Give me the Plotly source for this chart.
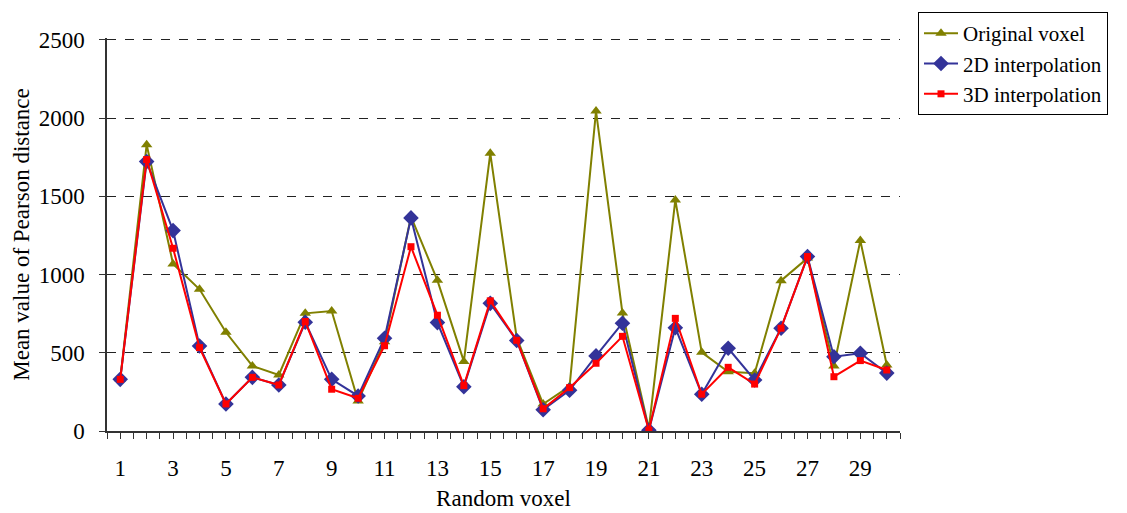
import plotly.graph_objects as go

voxels = list(range(1, 31))
original = [330, 1830, 1068, 906, 631, 416, 358, 752, 767, 192,
            570, 1370, 963, 445, 1775, 595, 172, 285, 2045, 754,
            15, 1477, 503, 379, 369, 961, 1105, 416, 1217, 422]
interp_2d = [330, 1722, 1281, 543, 173, 343, 294, 695, 330, 224,
             593, 1362, 693, 283, 816, 578, 136, 260, 480, 689,
             5, 660, 235, 529, 326, 657, 1115, 475, 497, 370]
interp_3d = [330, 1735, 1168, 533, 173, 343, 294, 700, 267, 209,
             545, 1178, 740, 290, 832, 580, 142, 277, 433, 605,
             5, 720, 235, 407, 300, 657, 1115, 347, 450, 390]
x_tick_vals = list(range(1, 30, 2))
x_tick_text = [str(v) for v in x_tick_vals]
y_tick_vals = [0, 500, 1000, 1500, 2000, 2500]

FONT = "Liberation Serif, Times New Roman, serif"
FS = 23

fig = go.Figure()
fig.add_trace(go.Scatter(x=voxels, y=original, mode="lines+markers", name="Original voxel",
                         line=dict(color="#808000", width=2),
                         marker=dict(symbol="triangle-up", size=10, color="#808000")))
fig.add_trace(go.Scatter(x=voxels, y=interp_2d, mode="lines+markers", name="2D interpolation",
                         line=dict(color="#333399", width=2),
                         marker=dict(symbol="diamond", size=12, color="#333399")))
fig.add_trace(go.Scatter(x=voxels, y=interp_3d, mode="lines+markers", name="3D interpolation",
                         line=dict(color="#FF0000", width=2),
                         marker=dict(symbol="square", size=7, color="#FF0000")))

fig.update_layout(
    width=1127, height=513,
    margin=dict(l=107, r=227, t=38, b=82, autoexpand=False),
    paper_bgcolor="white", plot_bgcolor="white",
    font=dict(family=FONT, size=FS, color="black"),
    showlegend=True,
    legend=dict(x=1.0227, y=1.066, xanchor="left", yanchor="top",
                bordercolor="black", borderwidth=1, bgcolor="white",
                font=dict(family=FONT, size=21), tracegroupgap=0, itemwidth=34),
)
fig.update_xaxes(
    range=[0.5, 30.5], tickmode="array", tickvals=x_tick_vals, ticktext=x_tick_text,
    ticks="outside", ticklen=6, tickcolor="#333", showline=True, linecolor="#333", linewidth=1.5,
    showgrid=False, zeroline=False, ticklabelstandoff=10, automargin=False,
    minor=dict(dtick=0.5, tick0=0.5, ticks="outside", ticklen=6, tickcolor="#333", showgrid=False),
    title=dict(text="Random voxel", standoff=10, font=dict(family=FONT, size=FS)),
)
fig.update_yaxes(
    range=[0, 2512], tickmode="array", tickvals=y_tick_vals,
    ticks="outside", ticklen=6, tickcolor="#333", showline=True, linecolor="#333", linewidth=1.5,
    showgrid=True, gridcolor="#222", griddash="dash", gridwidth=1, zeroline=False,
    ticklabelstandoff=10, automargin=False,
    title=dict(text="Mean value of Pearson distance", standoff=3, font=dict(family=FONT, size=FS)),
)

fig.write_html("out.html", config={"displayModeBar": False},
               post_script="document.body.style.margin='0';document.body.style.padding='0';")
